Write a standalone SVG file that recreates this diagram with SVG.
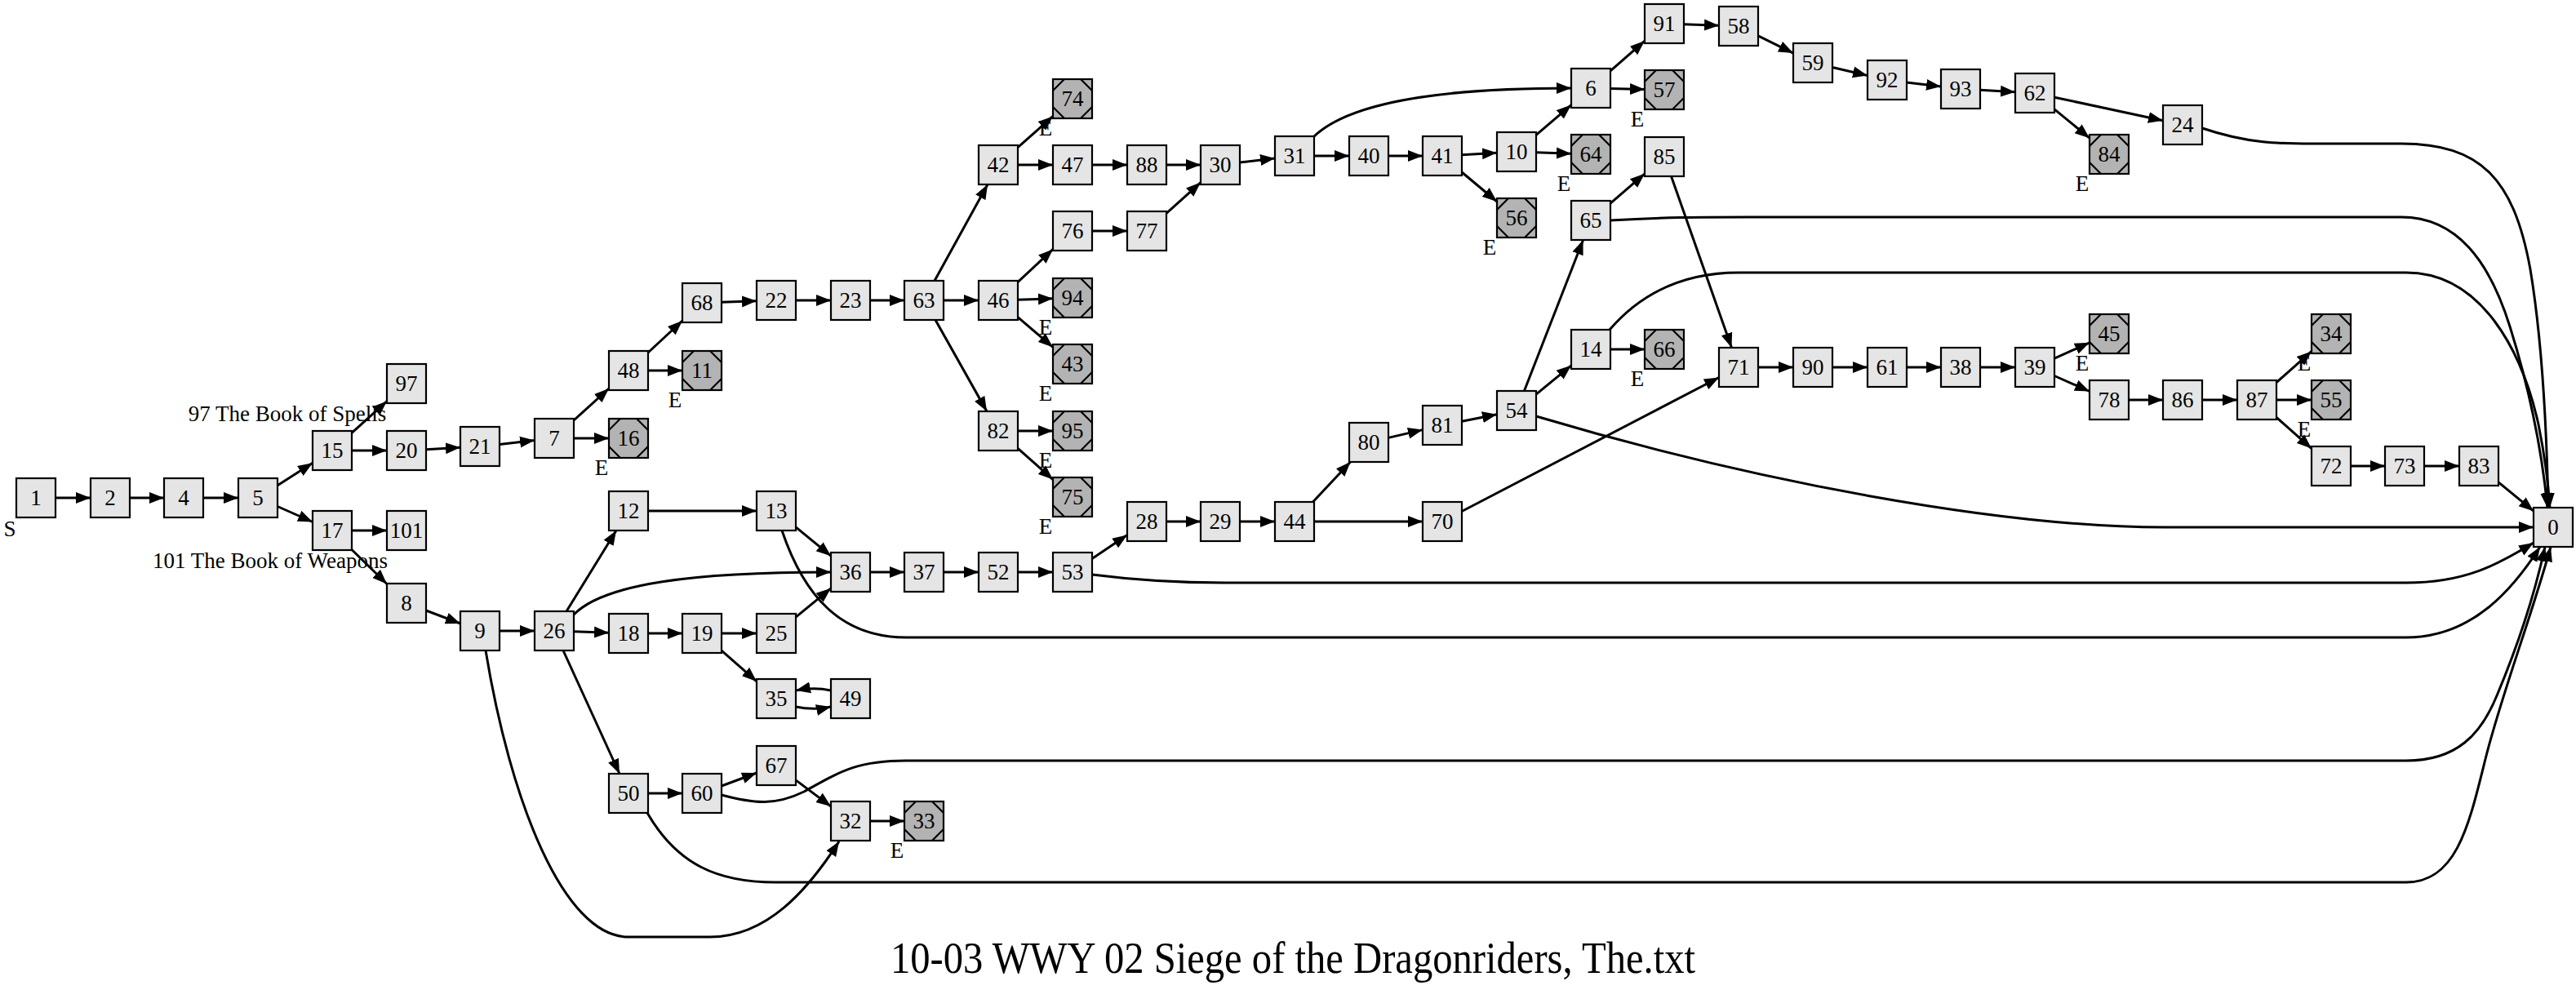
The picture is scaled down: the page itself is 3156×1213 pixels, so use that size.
<svg xmlns="http://www.w3.org/2000/svg" xmlns:xlink="http://www.w3.org/1999/xlink" width="3156" height="1213" viewBox="0 0 3156 1213">
<style>
text{font-family:"Liberation Serif","Times New Roman",serif;font-size:27px;text-anchor:middle;fill:#000}
.node rect{fill:#e5e5e5;stroke:#000;stroke-width:2.2}
.end rect{fill:#b3b3b3}
.diag{fill:none;stroke:#000;stroke-width:2.2}
.edges path{fill:none;stroke:#000;stroke-width:3;marker-end:url(#ah)}
</style>
<defs>
<marker id="ah" markerUnits="userSpaceOnUse" markerWidth="19" markerHeight="15" refX="18" refY="7.5" orient="auto"><path d="M0,0.5 L18,7.5 L0,14.5 z" fill="#000"/></marker>
<path id="dg" class="diag" d="M-10,-24 L-24,-10 M10,-24 L24,-10 M-24,10 L-10,24 M24,10 L10,24"/>
</defs>
<rect width="3156" height="1213" fill="#fff"/>
<g class="edges">
<path d="M68,610 L111,610"/>
<path d="M159,610 L201,610"/>
<path d="M249,610 L292,610"/>
<path d="M340,594.7 L383,567.3"/>
<path d="M340,620.5 L383,639.5"/>
<path d="M431,530.4 L474,491.6"/>
<path d="M431,552 L474,552"/>
<path d="M522,550.7 L564,548.3"/>
<path d="M612,544.4 L655,539.6"/>
<path d="M431,650 L474,650"/>
<path d="M431,673.5 L474,715.5"/>
<path d="M522,748 L564,764"/>
<path d="M612,773 L655,773"/>
<path d="M595,797 C625,980 690,1148 770,1148 L870,1148 C940,1148 990,1090 1028,1031"/>
<path d="M703,515 L746,476"/>
<path d="M703,537 L746,537"/>
<path d="M794,432 L836,393"/>
<path d="M794,454 L836,454"/>
<path d="M884,370.2 L927,368.8"/>
<path d="M975,368 L1018,368"/>
<path d="M1066,368 L1108,368"/>
<path d="M1145,344 L1210,226"/>
<path d="M1156,368 L1199,368"/>
<path d="M1146,392 L1209,504"/>
<path d="M1247,180.6 L1290,142.4"/>
<path d="M1247,202 L1290,202"/>
<path d="M1338,202 L1381,202"/>
<path d="M1429,202 L1471,202"/>
<path d="M1519,199.1 L1562,193.9"/>
<path d="M1247,345.6 L1290,305.4"/>
<path d="M1338,283 L1381,283"/>
<path d="M1429,261.4 L1471,223.6"/>
<path d="M1247,367.2 L1290,365.8"/>
<path d="M1247,388.6 L1290,425.4"/>
<path d="M1247,528 L1290,528"/>
<path d="M1247,549.4 L1290,587.6"/>
<path d="M1609,168 C1660,118 1800,108 1925,108"/>
<path d="M1610,191 L1653,191"/>
<path d="M1701,191 L1743,191"/>
<path d="M1791,189.7 L1834,187.3"/>
<path d="M1791,211 L1834,247"/>
<path d="M1882,165.4 L1925,128.6"/>
<path d="M1882,186.8 L1925,188.2"/>
<path d="M1973,86.9 L2015,50.1"/>
<path d="M1973,108.5 L2015,109.5"/>
<path d="M2063,29.8 L2106,31.2"/>
<path d="M2154,43.9 L2197,65.1"/>
<path d="M2245,82.5 L2288,92.5"/>
<path d="M2336,100.9 L2378,106.1"/>
<path d="M2426,110.3 L2469,112.7"/>
<path d="M2517,119.2 L2650,147.8"/>
<path d="M2517,133.8 L2560,169.2"/>
<path d="M2698,157 C2760,178 2800,176 2850,176 L2942,176 C3040,176 3080,220 3100,330 C3115,420 3120,520 3122,622"/>
<path d="M694,749 L755,650"/>
<path d="M703,753 C740,715 850,701 1018,701"/>
<path d="M703,773.8 L746,775.2"/>
<path d="M690,797 L759,948"/>
<path d="M794,626 L927,626"/>
<path d="M975,645.8 L1018,681.2"/>
<path d="M958,650 C985,730 1030,781 1110,781 L2948,781 C3030,781 3080,720 3112,670"/>
<path d="M794,776 L836,776"/>
<path d="M884,776 L927,776"/>
<path d="M884,797.1 L927,834.9"/>
<path d="M975,756.2 L1018,720.8"/>
<path d="M975,866 C990,869 1005,869 1018,866"/>
<path d="M1018,846 C1005,843 990,843 975,846"/>
<path d="M1066,701 L1108,701"/>
<path d="M1156,701 L1199,701"/>
<path d="M1247,701 L1290,701"/>
<path d="M1338,684.6 L1381,655.4"/>
<path d="M1338,704 C1400,712 1450,714 1500,714 L2948,714 C3020,714 3060,692 3104,665"/>
<path d="M1429,639 L1471,639"/>
<path d="M1519,639 L1562,639"/>
<path d="M1608.5,615 L1654.5,566"/>
<path d="M1610,639 L1743,639"/>
<path d="M1701,536.4 L1743,526.6"/>
<path d="M1791,516.3 L1834,507.7"/>
<path d="M1867.4,479 L1939.6,294"/>
<path d="M1882,483.2 L1925,447.8"/>
<path d="M1882,510 C2150,590 2450,646 2652,646 L3104,646"/>
<path d="M1973,249.2 L2015,212.8"/>
<path d="M1973,270 C2040,266 2080,266 2140,266 L2942,266 C3010,266 3050,320 3075,400 C3100,480 3115,560 3121,622"/>
<path d="M2047.5,216 L2121.5,426"/>
<path d="M1973,428 L2015,428"/>
<path d="M1972,404 C2010,360 2060,334 2130,334 L2948,334 C3040,334 3090,430 3110,520 C3118,560 3122,590 3124,622"/>
<path d="M1791,626.5 L2106,462.5"/>
<path d="M2154,450 L2197,450"/>
<path d="M2245,450 L2288,450"/>
<path d="M2336,450 L2378,450"/>
<path d="M2426,450 L2469,450"/>
<path d="M2517,439.2 L2560,419.8"/>
<path d="M2517,460.5 L2560,479.5"/>
<path d="M2608,490 L2650,490"/>
<path d="M2698,490 L2741,490"/>
<path d="M2789,468.6 L2832,430.4"/>
<path d="M2789,490 L2832,490"/>
<path d="M2789,511.4 L2832,549.6"/>
<path d="M2880,571 L2922,571"/>
<path d="M2970,571 L3013,571"/>
<path d="M3061,590.8 L3104,626.2"/>
<path d="M794,972 L836,972"/>
<path d="M793,996 C830,1060 880,1081 950,1081 L2948,1081 C3010,1081 3025,1010 3045,930 C3065,850 3100,760 3125,670"/>
<path d="M884,963 L927,947"/>
<path d="M884,974 C925,985 950,987 985,970 C1030,945 1050,932 1110,932 L2948,932 C3010,932 3040,900 3060,850 C3085,790 3105,730 3118,670"/>
<path d="M975,955.9 L1018,988.1"/>
<path d="M1066,1006 L1108,1006"/>
</g>
<g id="n1" class="node" transform="translate(44,610)"><rect x="-24" y="-24" width="48" height="48"/><text y="9">1</text><text x="-32" y="47">S</text></g>
<g id="n2" class="node" transform="translate(135,610)"><rect x="-24" y="-24" width="48" height="48"/><text y="9">2</text></g>
<g id="n4" class="node" transform="translate(225,610)"><rect x="-24" y="-24" width="48" height="48"/><text y="9">4</text></g>
<g id="n5" class="node" transform="translate(316,610)"><rect x="-24" y="-24" width="48" height="48"/><text y="9">5</text></g>
<g id="n15" class="node" transform="translate(407,552)"><rect x="-24" y="-24" width="48" height="48"/><text y="9">15</text></g>
<g id="n17" class="node" transform="translate(407,650)"><rect x="-24" y="-24" width="48" height="48"/><text y="9">17</text></g>
<g id="n97" class="node" transform="translate(498,470)"><rect x="-24" y="-24" width="48" height="48"/><text y="9">97</text></g>
<g id="n20" class="node" transform="translate(498,552)"><rect x="-24" y="-24" width="48" height="48"/><text y="9">20</text></g>
<g id="n101" class="node" transform="translate(498,650)"><rect x="-24" y="-24" width="48" height="48"/><text y="9">101</text></g>
<g id="n8" class="node" transform="translate(498,739)"><rect x="-24" y="-24" width="48" height="48"/><text y="9">8</text></g>
<g id="n21" class="node" transform="translate(588,547)"><rect x="-24" y="-24" width="48" height="48"/><text y="9">21</text></g>
<g id="n9" class="node" transform="translate(588,773)"><rect x="-24" y="-24" width="48" height="48"/><text y="9">9</text></g>
<g id="n7" class="node" transform="translate(679,537)"><rect x="-24" y="-24" width="48" height="48"/><text y="9">7</text></g>
<g id="n26" class="node" transform="translate(679,773)"><rect x="-24" y="-24" width="48" height="48"/><text y="9">26</text></g>
<g id="n48" class="node" transform="translate(770,454)"><rect x="-24" y="-24" width="48" height="48"/><text y="9">48</text></g>
<g id="n16" class="node end" transform="translate(770,537)"><rect x="-24" y="-24" width="48" height="48"/><use xlink:href="#dg"/><text y="9">16</text><text x="-33" y="45">E</text></g>
<g id="n12" class="node" transform="translate(770,626)"><rect x="-24" y="-24" width="48" height="48"/><text y="9">12</text></g>
<g id="n18" class="node" transform="translate(770,776)"><rect x="-24" y="-24" width="48" height="48"/><text y="9">18</text></g>
<g id="n50" class="node" transform="translate(770,972)"><rect x="-24" y="-24" width="48" height="48"/><text y="9">50</text></g>
<g id="n68" class="node" transform="translate(860,371)"><rect x="-24" y="-24" width="48" height="48"/><text y="9">68</text></g>
<g id="n11" class="node end" transform="translate(860,454)"><rect x="-24" y="-24" width="48" height="48"/><use xlink:href="#dg"/><text y="9">11</text><text x="-33" y="45">E</text></g>
<g id="n19" class="node" transform="translate(860,776)"><rect x="-24" y="-24" width="48" height="48"/><text y="9">19</text></g>
<g id="n60" class="node" transform="translate(860,972)"><rect x="-24" y="-24" width="48" height="48"/><text y="9">60</text></g>
<g id="n22" class="node" transform="translate(951,368)"><rect x="-24" y="-24" width="48" height="48"/><text y="9">22</text></g>
<g id="n13" class="node" transform="translate(951,626)"><rect x="-24" y="-24" width="48" height="48"/><text y="9">13</text></g>
<g id="n25" class="node" transform="translate(951,776)"><rect x="-24" y="-24" width="48" height="48"/><text y="9">25</text></g>
<g id="n35" class="node" transform="translate(951,856)"><rect x="-24" y="-24" width="48" height="48"/><text y="9">35</text></g>
<g id="n67" class="node" transform="translate(951,938)"><rect x="-24" y="-24" width="48" height="48"/><text y="9">67</text></g>
<g id="n23" class="node" transform="translate(1042,368)"><rect x="-24" y="-24" width="48" height="48"/><text y="9">23</text></g>
<g id="n36" class="node" transform="translate(1042,701)"><rect x="-24" y="-24" width="48" height="48"/><text y="9">36</text></g>
<g id="n49" class="node" transform="translate(1042,856)"><rect x="-24" y="-24" width="48" height="48"/><text y="9">49</text></g>
<g id="n32" class="node" transform="translate(1042,1006)"><rect x="-24" y="-24" width="48" height="48"/><text y="9">32</text></g>
<g id="n63" class="node" transform="translate(1132,368)"><rect x="-24" y="-24" width="48" height="48"/><text y="9">63</text></g>
<g id="n37" class="node" transform="translate(1132,701)"><rect x="-24" y="-24" width="48" height="48"/><text y="9">37</text></g>
<g id="n33" class="node end" transform="translate(1132,1006)"><rect x="-24" y="-24" width="48" height="48"/><use xlink:href="#dg"/><text y="9">33</text><text x="-33" y="45">E</text></g>
<g id="n42" class="node" transform="translate(1223,202)"><rect x="-24" y="-24" width="48" height="48"/><text y="9">42</text></g>
<g id="n46" class="node" transform="translate(1223,368)"><rect x="-24" y="-24" width="48" height="48"/><text y="9">46</text></g>
<g id="n82" class="node" transform="translate(1223,528)"><rect x="-24" y="-24" width="48" height="48"/><text y="9">82</text></g>
<g id="n52" class="node" transform="translate(1223,701)"><rect x="-24" y="-24" width="48" height="48"/><text y="9">52</text></g>
<g id="n74" class="node end" transform="translate(1314,121)"><rect x="-24" y="-24" width="48" height="48"/><use xlink:href="#dg"/><text y="9">74</text><text x="-33" y="45">E</text></g>
<g id="n47" class="node" transform="translate(1314,202)"><rect x="-24" y="-24" width="48" height="48"/><text y="9">47</text></g>
<g id="n76" class="node" transform="translate(1314,283)"><rect x="-24" y="-24" width="48" height="48"/><text y="9">76</text></g>
<g id="n94" class="node end" transform="translate(1314,365)"><rect x="-24" y="-24" width="48" height="48"/><use xlink:href="#dg"/><text y="9">94</text><text x="-33" y="45">E</text></g>
<g id="n43" class="node end" transform="translate(1314,446)"><rect x="-24" y="-24" width="48" height="48"/><use xlink:href="#dg"/><text y="9">43</text><text x="-33" y="45">E</text></g>
<g id="n95" class="node end" transform="translate(1314,528)"><rect x="-24" y="-24" width="48" height="48"/><use xlink:href="#dg"/><text y="9">95</text><text x="-33" y="45">E</text></g>
<g id="n75" class="node end" transform="translate(1314,609)"><rect x="-24" y="-24" width="48" height="48"/><use xlink:href="#dg"/><text y="9">75</text><text x="-33" y="45">E</text></g>
<g id="n53" class="node" transform="translate(1314,701)"><rect x="-24" y="-24" width="48" height="48"/><text y="9">53</text></g>
<g id="n88" class="node" transform="translate(1405,202)"><rect x="-24" y="-24" width="48" height="48"/><text y="9">88</text></g>
<g id="n77" class="node" transform="translate(1405,283)"><rect x="-24" y="-24" width="48" height="48"/><text y="9">77</text></g>
<g id="n28" class="node" transform="translate(1405,639)"><rect x="-24" y="-24" width="48" height="48"/><text y="9">28</text></g>
<g id="n30" class="node" transform="translate(1495,202)"><rect x="-24" y="-24" width="48" height="48"/><text y="9">30</text></g>
<g id="n29" class="node" transform="translate(1495,639)"><rect x="-24" y="-24" width="48" height="48"/><text y="9">29</text></g>
<g id="n31" class="node" transform="translate(1586,191)"><rect x="-24" y="-24" width="48" height="48"/><text y="9">31</text></g>
<g id="n44" class="node" transform="translate(1586,639)"><rect x="-24" y="-24" width="48" height="48"/><text y="9">44</text></g>
<g id="n40" class="node" transform="translate(1677,191)"><rect x="-24" y="-24" width="48" height="48"/><text y="9">40</text></g>
<g id="n80" class="node" transform="translate(1677,542)"><rect x="-24" y="-24" width="48" height="48"/><text y="9">80</text></g>
<g id="n41" class="node" transform="translate(1767,191)"><rect x="-24" y="-24" width="48" height="48"/><text y="9">41</text></g>
<g id="n81" class="node" transform="translate(1767,521)"><rect x="-24" y="-24" width="48" height="48"/><text y="9">81</text></g>
<g id="n70" class="node" transform="translate(1767,639)"><rect x="-24" y="-24" width="48" height="48"/><text y="9">70</text></g>
<g id="n10" class="node" transform="translate(1858,186)"><rect x="-24" y="-24" width="48" height="48"/><text y="9">10</text></g>
<g id="n56" class="node end" transform="translate(1858,267)"><rect x="-24" y="-24" width="48" height="48"/><use xlink:href="#dg"/><text y="9">56</text><text x="-33" y="45">E</text></g>
<g id="n54" class="node" transform="translate(1858,503)"><rect x="-24" y="-24" width="48" height="48"/><text y="9">54</text></g>
<g id="n6" class="node" transform="translate(1949,108)"><rect x="-24" y="-24" width="48" height="48"/><text y="9">6</text></g>
<g id="n64" class="node end" transform="translate(1949,189)"><rect x="-24" y="-24" width="48" height="48"/><use xlink:href="#dg"/><text y="9">64</text><text x="-33" y="45">E</text></g>
<g id="n65" class="node" transform="translate(1949,270)"><rect x="-24" y="-24" width="48" height="48"/><text y="9">65</text></g>
<g id="n14" class="node" transform="translate(1949,428)"><rect x="-24" y="-24" width="48" height="48"/><text y="9">14</text></g>
<g id="n91" class="node" transform="translate(2039,29)"><rect x="-24" y="-24" width="48" height="48"/><text y="9">91</text></g>
<g id="n57" class="node end" transform="translate(2039,110)"><rect x="-24" y="-24" width="48" height="48"/><use xlink:href="#dg"/><text y="9">57</text><text x="-33" y="45">E</text></g>
<g id="n85" class="node" transform="translate(2039,192)"><rect x="-24" y="-24" width="48" height="48"/><text y="9">85</text></g>
<g id="n66" class="node end" transform="translate(2039,428)"><rect x="-24" y="-24" width="48" height="48"/><use xlink:href="#dg"/><text y="9">66</text><text x="-33" y="45">E</text></g>
<g id="n58" class="node" transform="translate(2130,32)"><rect x="-24" y="-24" width="48" height="48"/><text y="9">58</text></g>
<g id="n71" class="node" transform="translate(2130,450)"><rect x="-24" y="-24" width="48" height="48"/><text y="9">71</text></g>
<g id="n59" class="node" transform="translate(2221,77)"><rect x="-24" y="-24" width="48" height="48"/><text y="9">59</text></g>
<g id="n90" class="node" transform="translate(2221,450)"><rect x="-24" y="-24" width="48" height="48"/><text y="9">90</text></g>
<g id="n92" class="node" transform="translate(2312,98)"><rect x="-24" y="-24" width="48" height="48"/><text y="9">92</text></g>
<g id="n61" class="node" transform="translate(2312,450)"><rect x="-24" y="-24" width="48" height="48"/><text y="9">61</text></g>
<g id="n93" class="node" transform="translate(2402,109)"><rect x="-24" y="-24" width="48" height="48"/><text y="9">93</text></g>
<g id="n38" class="node" transform="translate(2402,450)"><rect x="-24" y="-24" width="48" height="48"/><text y="9">38</text></g>
<g id="n62" class="node" transform="translate(2493,114)"><rect x="-24" y="-24" width="48" height="48"/><text y="9">62</text></g>
<g id="n39" class="node" transform="translate(2493,450)"><rect x="-24" y="-24" width="48" height="48"/><text y="9">39</text></g>
<g id="n84" class="node end" transform="translate(2584,189)"><rect x="-24" y="-24" width="48" height="48"/><use xlink:href="#dg"/><text y="9">84</text><text x="-33" y="45">E</text></g>
<g id="n45" class="node end" transform="translate(2584,409)"><rect x="-24" y="-24" width="48" height="48"/><use xlink:href="#dg"/><text y="9">45</text><text x="-33" y="45">E</text></g>
<g id="n78" class="node" transform="translate(2584,490)"><rect x="-24" y="-24" width="48" height="48"/><text y="9">78</text></g>
<g id="n24" class="node" transform="translate(2674,153)"><rect x="-24" y="-24" width="48" height="48"/><text y="9">24</text></g>
<g id="n86" class="node" transform="translate(2674,490)"><rect x="-24" y="-24" width="48" height="48"/><text y="9">86</text></g>
<g id="n87" class="node" transform="translate(2765,490)"><rect x="-24" y="-24" width="48" height="48"/><text y="9">87</text></g>
<g id="n34" class="node end" transform="translate(2856,409)"><rect x="-24" y="-24" width="48" height="48"/><use xlink:href="#dg"/><text y="9">34</text><text x="-33" y="45">E</text></g>
<g id="n55" class="node end" transform="translate(2856,490)"><rect x="-24" y="-24" width="48" height="48"/><use xlink:href="#dg"/><text y="9">55</text><text x="-33" y="45">E</text></g>
<g id="n72" class="node" transform="translate(2856,571)"><rect x="-24" y="-24" width="48" height="48"/><text y="9">72</text></g>
<g id="n73" class="node" transform="translate(2946,571)"><rect x="-24" y="-24" width="48" height="48"/><text y="9">73</text></g>
<g id="n83" class="node" transform="translate(3037,571)"><rect x="-24" y="-24" width="48" height="48"/><text y="9">83</text></g>
<g id="n0" class="node" transform="translate(3128,646)"><rect x="-24" y="-24" width="48" height="48"/><text y="9">0</text></g>
<g id="labels">
<text x="352" y="516">97 The Book of Spells</text>
<text x="331" y="696">101 The Book of Weapons</text>
<text x="1584" y="1192" style="font-size:54px" textLength="986" lengthAdjust="spacingAndGlyphs">10-03 WWY 02 Siege of the Dragonriders, The.txt</text>
</g>
</svg>
